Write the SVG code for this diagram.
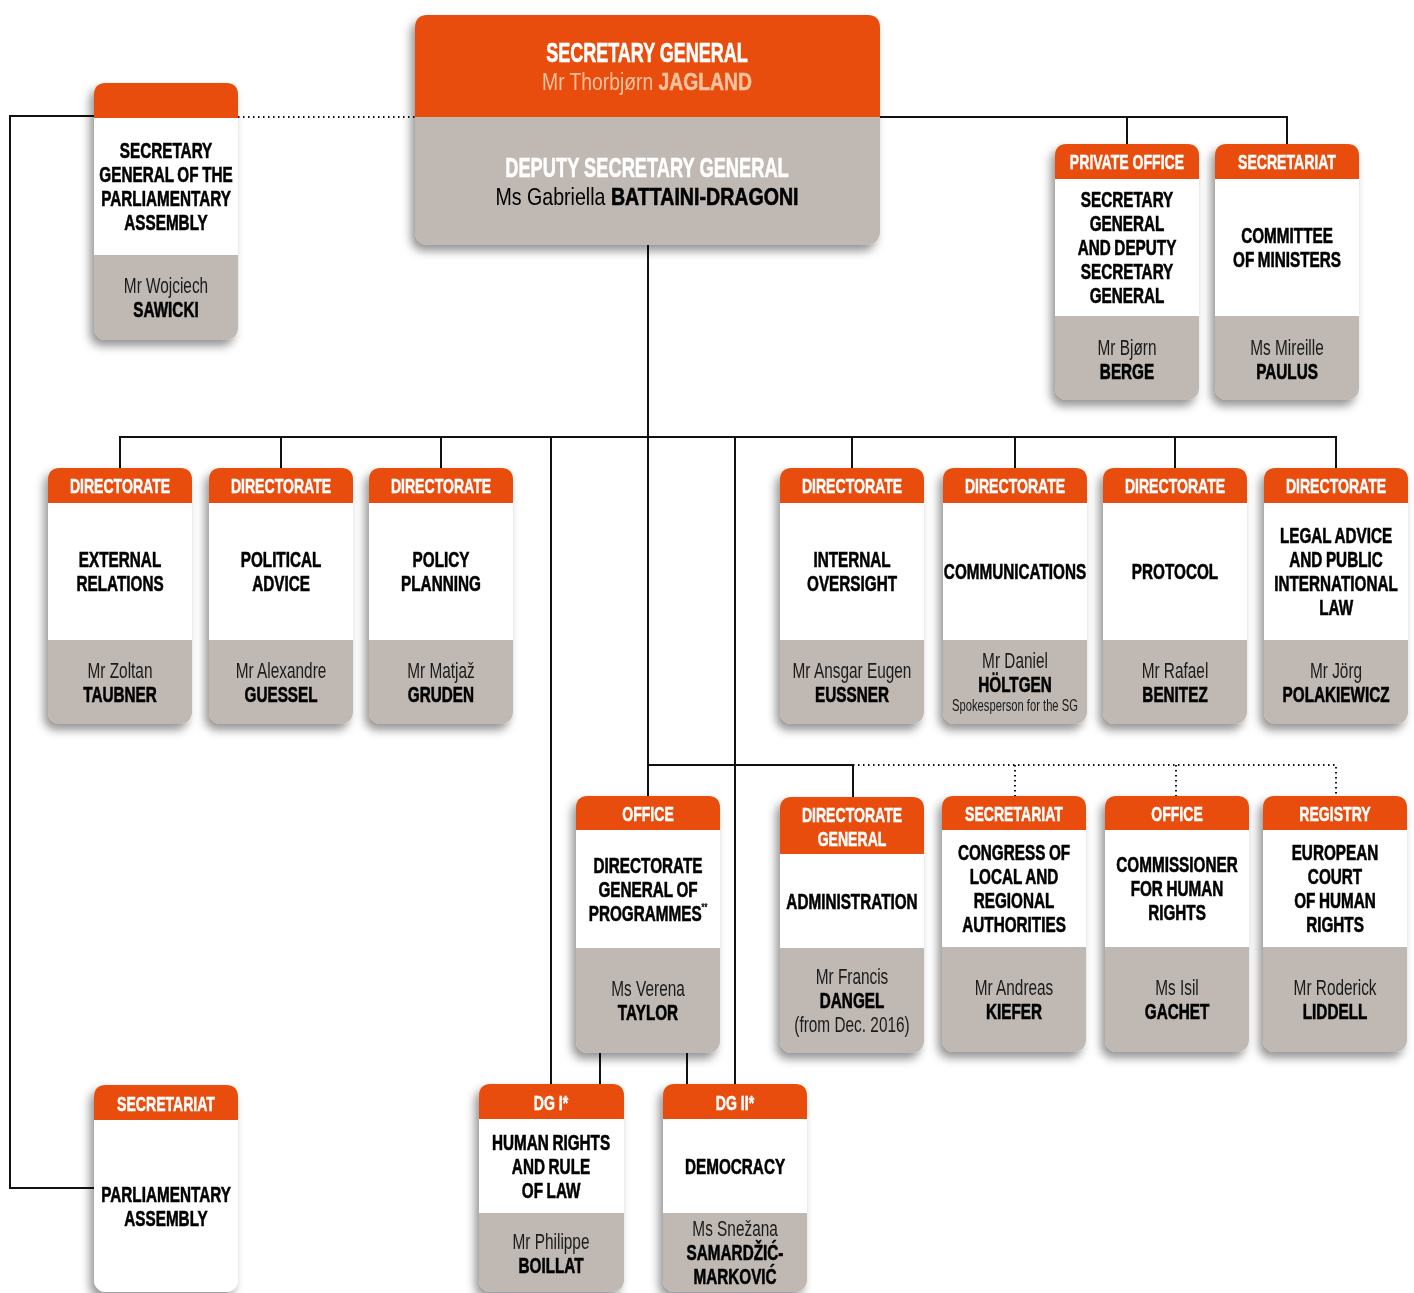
<svg xmlns="http://www.w3.org/2000/svg" width="1414" height="1293" viewBox="0 0 1414 1293">
<defs>
<filter id="sh" x="-20%" y="-20%" width="140%" height="140%">
<feDropShadow dx="-4" dy="6" stdDeviation="5" flood-color="#000" flood-opacity="0.42"/>
</filter>
<style>
.gy{fill:#BFB8B3}
.wh{fill:#FFFFFF}
.or{fill:#E84E0F}
.bx{filter:url(#sh)}
text{font-family:"Liberation Sans",Arial,sans-serif;text-anchor:middle;transform-box:fill-box;transform-origin:center}
.h{fill:#FFFFFF;stroke:#FFFFFF;stroke-width:0.5;font-weight:bold;font-size:21px;transform:scaleX(0.67)}
.b{fill:#000;stroke:#000;stroke-width:0.6;font-weight:bold;font-size:22.5px;word-spacing:-1px;transform:scaleX(0.68)}
.n{fill:#1a1a1a;font-size:22px;transform:scaleX(0.7)}
.nb{fill:#000;stroke:#000;stroke-width:0.6;font-weight:bold;font-size:22.5px;transform:scaleX(0.68)}
.sm{fill:#1a1a1a;font-size:16.5px;transform:scaleX(0.68)}
.ln{fill:none;stroke:#111;stroke-width:2}
.dt{fill:none;stroke:#111;stroke-width:2;stroke-dasharray:1.5 3.5}
</style>
</defs>

<g id="connectors">
<path class="ln" d="M94,116 H10 V1188 H94"/>
<path class="dt" d="M238,117 H415"/>
<path class="ln" d="M880,117 H1287 V144 M1127,117 V144"/>
<path class="ln" d="M648,245 V796"/>
<path class="ln" d="M120,468 V437 H1336 V468 M281,437 V468 M441,437 V468 M852,437 V468 M1015,437 V468 M1175,437 V468"/>
<path class="ln" d="M551,437 V1084 M735,437 V1084"/>
<path class="ln" d="M648,765 H853 V797"/>
<path class="dt" d="M853,765 H1336 V796 M1015,765 V796 M1176,765 V796"/>
<path class="ln" d="M600,1053 V1084 M687,1053 V1084"/>
</g>

<g id="sg" class="bx">
<rect class="gy" x="415" y="15" width="465" height="230" rx="13"/>
<path class="or" d="M415,117 V28 Q415,15 428,15 H867 Q880,15 880,28 V117 Z"/>
<text x="647" y="62" style="fill:#fff;stroke:#fff;stroke-width:0.6;font-weight:bold;font-size:27px;transform:scaleX(0.667)">SECRETARY GENERAL</text>
<text x="647" y="90" style="fill:#F8C29F;font-size:24px;transform:scaleX(0.805)">Mr Thorbjørn <tspan font-weight="bold" stroke="#F8C29F" stroke-width="0.5">JAGLAND</tspan></text>
<text x="647" y="177" style="fill:#fff;stroke:#fff;stroke-width:0.6;font-weight:bold;font-size:28px;transform:scaleX(0.653)">DEPUTY SECRETARY GENERAL</text>
<text x="647" y="205" style="fill:#000;font-size:24px;transform:scaleX(0.817)">Ms Gabriella <tspan font-weight="bold" stroke="#000" stroke-width="0.6">BATTAINI-DRAGONI</tspan></text>
</g>

<g id="sgpa" class="bx">
<rect class="gy" x="94" y="83" width="144" height="257" rx="12"/>
<path class="or" d="M94,118 V95 Q94,83 106,83 H226 Q238,83 238,95 V118 Z"/>
<rect class="wh" x="94" y="118" width="144" height="137"/>
<text class="b" x="166" y="158">SECRETARY</text>
<text class="b" x="166" y="182">GENERAL OF THE</text>
<text class="b" x="166" y="206">PARLIAMENTARY</text>
<text class="b" x="166" y="230">ASSEMBLY</text>
<text class="n" x="166" y="293">Mr Wojciech</text>
<text class="nb" x="166" y="317">SAWICKI</text>
</g>

<g id="private-office" class="bx">
<rect class="gy" x="1055" y="144" width="144" height="256" rx="12"/>
<path class="or" d="M1055,179 V156 Q1055,144 1067,144 H1187 Q1199,144 1199,156 V179 Z"/>
<rect class="wh" x="1055" y="179" width="144" height="137"/>
<text class="h" x="1127" y="169">PRIVATE OFFICE</text>
<text class="b" x="1127" y="207">SECRETARY</text>
<text class="b" x="1127" y="231">GENERAL</text>
<text class="b" x="1127" y="255">AND DEPUTY</text>
<text class="b" x="1127" y="279">SECRETARY</text>
<text class="b" x="1127" y="303">GENERAL</text>
<text class="n" x="1127" y="355">Mr Bjørn</text>
<text class="nb" x="1127" y="379">BERGE</text>
</g>

<g id="secretariat-cm" class="bx">
<rect class="gy" x="1215" y="144" width="144" height="256" rx="12"/>
<path class="or" d="M1215,179 V156 Q1215,144 1227,144 H1347 Q1359,144 1359,156 V179 Z"/>
<rect class="wh" x="1215" y="179" width="144" height="137"/>
<text class="h" x="1287" y="169">SECRETARIAT</text>
<text class="b" x="1287" y="243">COMMITTEE</text>
<text class="b" x="1287" y="267">OF MINISTERS</text>
<text class="n" x="1287" y="355">Ms Mireille</text>
<text class="nb" x="1287" y="379">PAULUS</text>
</g>

<g id="dir-external" class="bx">
<rect class="gy" x="48" y="468" width="144" height="256" rx="12"/>
<path class="or" d="M48,503 V480 Q48,468 60,468 H180 Q192,468 192,480 V503 Z"/>
<rect class="wh" x="48" y="503" width="144" height="137"/>
<text class="h" x="120" y="493">DIRECTORATE</text>
<text class="b" x="120" y="567">EXTERNAL</text>
<text class="b" x="120" y="591">RELATIONS</text>
<text class="n" x="120" y="678">Mr Zoltan</text>
<text class="nb" x="120" y="702">TAUBNER</text>
</g>

<g id="dir-political" class="bx">
<rect class="gy" x="209" y="468" width="144" height="256" rx="12"/>
<path class="or" d="M209,503 V480 Q209,468 221,468 H341 Q353,468 353,480 V503 Z"/>
<rect class="wh" x="209" y="503" width="144" height="137"/>
<text class="h" x="281" y="493">DIRECTORATE</text>
<text class="b" x="281" y="567">POLITICAL</text>
<text class="b" x="281" y="591">ADVICE</text>
<text class="n" x="281" y="678">Mr Alexandre</text>
<text class="nb" x="281" y="702">GUESSEL</text>
</g>

<g id="dir-policy" class="bx">
<rect class="gy" x="369" y="468" width="144" height="256" rx="12"/>
<path class="or" d="M369,503 V480 Q369,468 381,468 H501 Q513,468 513,480 V503 Z"/>
<rect class="wh" x="369" y="503" width="144" height="137"/>
<text class="h" x="441" y="493">DIRECTORATE</text>
<text class="b" x="441" y="567">POLICY</text>
<text class="b" x="441" y="591">PLANNING</text>
<text class="n" x="441" y="678">Mr Matjaž</text>
<text class="nb" x="441" y="702">GRUDEN</text>
</g>

<g id="dir-internal" class="bx">
<rect class="gy" x="780" y="468" width="144" height="256" rx="12"/>
<path class="or" d="M780,503 V480 Q780,468 792,468 H912 Q924,468 924,480 V503 Z"/>
<rect class="wh" x="780" y="503" width="144" height="137"/>
<text class="h" x="852" y="493">DIRECTORATE</text>
<text class="b" x="852" y="567">INTERNAL</text>
<text class="b" x="852" y="591">OVERSIGHT</text>
<text class="n" x="852" y="678">Mr Ansgar Eugen</text>
<text class="nb" x="852" y="702">EUSSNER</text>
</g>

<g id="dir-communications" class="bx">
<rect class="gy" x="943" y="468" width="144" height="256" rx="12"/>
<path class="or" d="M943,503 V480 Q943,468 955,468 H1075 Q1087,468 1087,480 V503 Z"/>
<rect class="wh" x="943" y="503" width="144" height="137"/>
<text class="h" x="1015" y="493">DIRECTORATE</text>
<text class="b" x="1015" y="579">COMMUNICATIONS</text>
<text class="n" x="1015" y="668">Mr Daniel</text>
<text class="nb" x="1015" y="692">HÖLTGEN</text>
<text class="sm" x="1015" y="711">Spokesperson for the SG</text>
</g>

<g id="dir-protocol" class="bx">
<rect class="gy" x="1103" y="468" width="144" height="256" rx="12"/>
<path class="or" d="M1103,503 V480 Q1103,468 1115,468 H1235 Q1247,468 1247,480 V503 Z"/>
<rect class="wh" x="1103" y="503" width="144" height="137"/>
<text class="h" x="1175" y="493">DIRECTORATE</text>
<text class="b" x="1175" y="579">PROTOCOL</text>
<text class="n" x="1175" y="678">Mr Rafael</text>
<text class="nb" x="1175" y="702">BENITEZ</text>
</g>

<g id="dir-legal" class="bx">
<rect class="gy" x="1264" y="468" width="144" height="256" rx="12"/>
<path class="or" d="M1264,503 V480 Q1264,468 1276,468 H1396 Q1408,468 1408,480 V503 Z"/>
<rect class="wh" x="1264" y="503" width="144" height="137"/>
<text class="h" x="1336" y="493">DIRECTORATE</text>
<text class="b" x="1336" y="543">LEGAL ADVICE</text>
<text class="b" x="1336" y="567">AND PUBLIC</text>
<text class="b" x="1336" y="591">INTERNATIONAL</text>
<text class="b" x="1336" y="615">LAW</text>
<text class="n" x="1336" y="678">Mr Jörg</text>
<text class="nb" x="1336" y="702">POLAKIEWICZ</text>
</g>

<g id="office-dgp" class="bx">
<rect class="gy" x="576" y="796" width="144" height="257" rx="12"/>
<path class="or" d="M576,830 V808 Q576,796 588,796 H708 Q720,796 720,808 V830 Z"/>
<rect class="wh" x="576" y="830" width="144" height="118"/>
<text class="h" x="648" y="821">OFFICE</text>
<text class="b" x="648" y="873">DIRECTORATE</text>
<text class="b" x="648" y="897">GENERAL OF</text>
<text class="b" x="648" y="921">PROGRAMMES<tspan font-size="11" dy="-10" stroke-width="0.2">**</tspan></text>
<text class="n" x="648" y="996">Ms Verena</text>
<text class="nb" x="648" y="1020">TAYLOR</text>
</g>

<g id="dg-admin" class="bx">
<rect class="gy" x="780" y="797" width="144" height="256" rx="12"/>
<path class="or" d="M780,854 V809 Q780,797 792,797 H912 Q924,797 924,809 V854 Z"/>
<rect class="wh" x="780" y="854" width="144" height="94"/>
<text class="h" x="852" y="822">DIRECTORATE</text>
<text class="h" x="852" y="846">GENERAL</text>
<text class="b" x="852" y="909">ADMINISTRATION</text>
<text class="n" x="852" y="984">Mr Francis</text>
<text class="nb" x="852" y="1008">DANGEL</text>
<text class="n" x="852" y="1032">(from Dec. 2016)</text>
</g>

<g id="congress" class="bx">
<rect class="gy" x="942" y="796" width="144" height="256" rx="12"/>
<path class="or" d="M942,830 V808 Q942,796 954,796 H1074 Q1086,796 1086,808 V830 Z"/>
<rect class="wh" x="942" y="830" width="144" height="117"/>
<text class="h" x="1014" y="821">SECRETARIAT</text>
<text class="b" x="1014" y="860">CONGRESS OF</text>
<text class="b" x="1014" y="884">LOCAL AND</text>
<text class="b" x="1014" y="908">REGIONAL</text>
<text class="b" x="1014" y="932">AUTHORITIES</text>
<text class="n" x="1014" y="995">Mr Andreas</text>
<text class="nb" x="1014" y="1019">KIEFER</text>
</g>

<g id="commissioner" class="bx">
<rect class="gy" x="1105" y="796" width="144" height="256" rx="12"/>
<path class="or" d="M1105,830 V808 Q1105,796 1117,796 H1237 Q1249,796 1249,808 V830 Z"/>
<rect class="wh" x="1105" y="830" width="144" height="117"/>
<text class="h" x="1177" y="821">OFFICE</text>
<text class="b" x="1177" y="872">COMMISSIONER</text>
<text class="b" x="1177" y="896">FOR HUMAN</text>
<text class="b" x="1177" y="920">RIGHTS</text>
<text class="n" x="1177" y="995">Ms Isil</text>
<text class="nb" x="1177" y="1019">GACHET</text>
</g>

<g id="registry" class="bx">
<rect class="gy" x="1263" y="796" width="144" height="256" rx="12"/>
<path class="or" d="M1263,830 V808 Q1263,796 1275,796 H1395 Q1407,796 1407,808 V830 Z"/>
<rect class="wh" x="1263" y="830" width="144" height="117"/>
<text class="h" x="1335" y="821">REGISTRY</text>
<text class="b" x="1335" y="860">EUROPEAN</text>
<text class="b" x="1335" y="884">COURT</text>
<text class="b" x="1335" y="908">OF HUMAN</text>
<text class="b" x="1335" y="932">RIGHTS</text>
<text class="n" x="1335" y="995">Mr Roderick</text>
<text class="nb" x="1335" y="1019">LIDDELL</text>
</g>

<g id="dg1" class="bx">
<rect class="gy" x="479" y="1084" width="145" height="208" rx="12"/>
<path class="or" d="M479,1119 V1096 Q479,1084 491,1084 H612 Q624,1084 624,1096 V1119 Z"/>
<rect class="wh" x="479" y="1119" width="145" height="94"/>
<text class="h" x="551" y="1110">DG I*</text>
<text class="b" x="551" y="1150">HUMAN RIGHTS</text>
<text class="b" x="551" y="1174">AND RULE</text>
<text class="b" x="551" y="1198">OF LAW</text>
<text class="n" x="551" y="1249">Mr Philippe</text>
<text class="nb" x="551" y="1273">BOILLAT</text>
</g>

<g id="dg2" class="bx">
<rect class="gy" x="663" y="1084" width="144" height="208" rx="12"/>
<path class="or" d="M663,1119 V1096 Q663,1084 675,1084 H795 Q807,1084 807,1096 V1119 Z"/>
<rect class="wh" x="663" y="1119" width="144" height="94"/>
<text class="h" x="735" y="1110">DG II*</text>
<text class="b" x="735" y="1174">DEMOCRACY</text>
<text class="n" x="735" y="1236">Ms Snežana</text>
<text class="nb" x="735" y="1260">SAMARDŽIĆ-</text>
<text class="nb" x="735" y="1284">MARKOVIĆ</text>
</g>

<g id="sec-pa" class="bx">
<rect class="wh" x="94" y="1085" width="144" height="207" rx="12"/>
<path class="or" d="M94,1120 V1097 Q94,1085 106,1085 H226 Q238,1085 238,1097 V1120 Z"/>
<text class="h" x="166" y="1111">SECRETARIAT</text>
<text class="b" x="166" y="1202">PARLIAMENTARY</text>
<text class="b" x="166" y="1226">ASSEMBLY</text>
</g>
</svg>
